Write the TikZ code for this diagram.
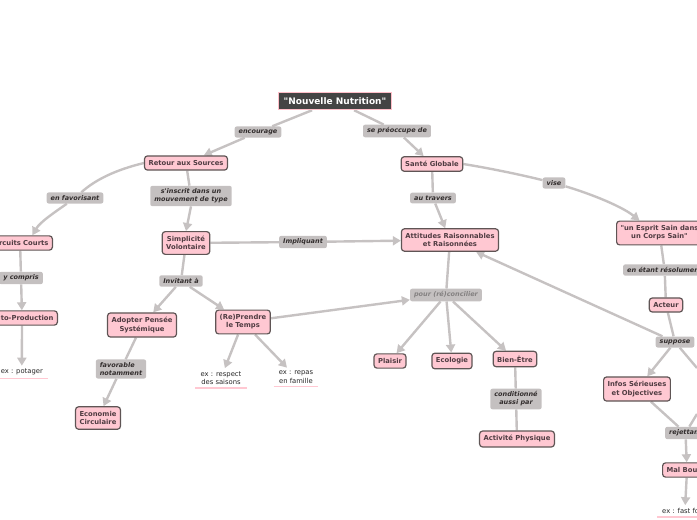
\documentclass[tikz,border=0pt]{standalone}
\usepackage{fontspec}
\setmainfont{DejaVu Sans}[Ligatures=TeXOff]
\usetikzlibrary{arrows.meta,backgrounds}
\definecolor{pinkfill}{RGB}{255,200,210}
\definecolor{nodeborder}{RGB}{95,85,85}
\definecolor{nodetext}{RGB}{80,60,66}
\definecolor{labfill}{RGB}{196,192,192}
\definecolor{labtext}{RGB}{50,45,45}
\definecolor{edgecol}{RGB}{198,194,194}
\definecolor{titlefill}{RGB}{68,68,68}
\definecolor{titleborder}{RGB}{255,190,200}
\tikzset{
  topic/.style={draw=nodeborder, line width=1.2pt, fill=pinkfill, rounded corners=3pt,
    text=nodetext, font=\fontsize{6.8}{8.2}\selectfont\bfseries, align=center,
    inner xsep=4pt, inner ysep=4.5pt},
  maintopic/.style={draw=titleborder, line width=1.5pt, fill=titlefill, text=white,
    font=\fontsize{9}{10.5}\selectfont\bfseries, inner xsep=5pt, inner ysep=5pt},
  lab/.style={fill=labfill, rounded corners=2pt, text=labtext,
    font=\fontsize{6.5}{8}\selectfont\bfseries\itshape, align=center,
    inner xsep=4pt, inner ysep=3pt},
  exnode/.style={text=black!85, font=\fontsize{6.8}{8.4}\selectfont, align=center,
    inner xsep=5pt, inner ysep=3pt},
  exline/.style={draw=pinkfill, line width=1.5pt},
  conn/.style={draw=edgecol, line width=2.4pt},
  arr/.style={conn, -{Triangle[length=8pt,width=9pt]}},
}
\begin{document}
\begin{tikzpicture}[x=1pt,y=-1pt]
\useasboundingbox (0,0) rectangle (697,520);
\clip (0,0) rectangle (697,520);

% nodes
\node[maintopic] (nn) at (335,101) {"Nouvelle Nutrition"};
\node[lab] (l1) at (258,132) {encourage};
\node[lab] (l2) at (397,131) {se préoccupe de};
\node[topic] (ret) at (186,163) {Retour aux Sources};
\node[topic] (sg) at (432,164) {Santé Globale};
\node[lab] (l3) at (75,198) {en favorisant};
\node[lab] (l4) at (191,196) {s'inscrit dans un\\mouvement de type};
\node[lab] (l5) at (433,198) {au travers};
\node[lab] (l6) at (554,183) {vise};
\node[topic, anchor=east] (cc) at (53,243) {Circuits Courts};
\node[topic] (sv) at (186,243) {Simplicité\\Volontaire};
\node[lab] (l7) at (303,242) {Impliquant};
\node[topic] (att) at (450,240) {Attitudes Raisonnables\\et Raisonnées};
\node[topic, anchor=west] (esp) at (616,233) {"un Esprit Sain dans\\un Corps Sain"};
\node[lab, anchor=east] (l8) at (43,278) {y compris};
\node[lab] (l9) at (181,281) {Invitant à};
\node[lab, anchor=west] (l10) at (623,270) {en étant résolument};
\node[topic, anchor=east] (ap) at (58,318) {Auto-Production};
\node[topic] (act) at (666,305) {Acteur};
\node[lab, text=labtext!60] (l11) at (446,295) {pour (ré)concilier};
\node[topic] (rp) at (243,322) {(Re)Prendre\\le Temps};
\node[topic] (aps) at (142,325) {Adopter Pensée\\Systémique};
\node[lab] (l12) at (675,342) {suppose};
\node[topic] (pl) at (390,361) {Plaisir};
\node[topic] (eco) at (452,361) {Ecologie};
\node[topic] (be) at (515,359) {Bien-Être};
\node[lab, align=left] (l13) at (121,369) {favorable\\notamment};
\node[exnode] (e1) at (221,378) {ex : respect\\des saisons};
\node[exnode] (e2) at (296,377) {ex : repas\\en famille};
\node[exnode, anchor=east] (e3) at (48,372) {ex : potager};
\node[topic] (inf) at (637,389) {Infos Sérieuses\\et Objectives};
\node[lab] (l14) at (516,399) {conditionné\\aussi par};
\node[topic] (ec) at (98,418) {Economie\\Circulaire};
\node[lab, anchor=west] (l15) at (665,433) {rejettant};
\node[topic] (ab) at (517,439) {Activité Physique};
\node[topic, anchor=west] (mb) at (662,470) {Mal Bouffe};
\node[exnode, anchor=west] (e4) at (657,511) {ex : fast food};
\coordinate (offa) at (697,368);
\coordinate (offb) at (697,414);

% underlines of example texts
\foreach \e in {e1,e2,e3,e4} \draw[exline] (\e.south west) -- (\e.south east);

% connectors
\begin{scope}[on background layer]
\draw[conn] (nn) -- (l1);
\draw[arr] (l1) -- (ret);
\draw[conn] (nn) -- (l2);
\draw[arr] (l2) -- (sg);
\draw[conn] (ret.west) .. controls (115,170) and (95,180) .. (l3);
\draw[arr] (l3) .. controls (55,212) and (40,222) .. (cc.32);
\draw[conn] (ret) -- (l4);
\draw[arr] (l4.south) -- (sv.north);
\draw[conn] (sg) -- (l5);
\draw[arr] (l5) -- (att);
\draw[conn] (sg.east) .. controls (500,170) and (530,177) .. (l6);
\draw[arr] (l6) .. controls (585,192) and (620,205) .. (esp.148);
\draw[conn] (cc) -- (l8);
\draw[arr] (l8) -- (ap);
\draw[arr] (ap) -- (e3);
\draw[conn] (sv) -- (l7);
\draw[arr] (l7) -- (att);
\draw[conn] (sv) -- (l9);
\draw[arr] (l9) -- (aps);
\draw[arr] (l9) -- (rp);
\draw[conn] (esp) -- (l10);
\draw[conn] (l10) -- (act);
\draw[conn] (act) -- (l12);
\draw[arr] (l12) -- (att);
\draw[arr] (l12) -- (inf);
\draw[conn] (l12) -- (offa);
\draw[conn] (att) -- (l11);
\draw[arr] (rp) -- (l11);
\draw[arr] (l11) -- (pl);
\draw[arr] (l11) -- (eco);
\draw[arr] (l11) -- (be);
\draw[conn] (be) -- (l14);
\draw[conn] (l14) -- (ab);
\draw[conn] (aps) -- (l13);
\draw[arr] (l13) -- (ec);
\draw[arr] (rp) -- (e1);
\draw[arr] (rp) -- (e2);
\draw[conn] (inf) -- (l15);
\draw[conn] (offb) -- (l15);
\draw[arr] (l15) -- (mb);
\draw[arr] (mb) -- (e4);
\end{scope}
\end{tikzpicture}
\end{document}
